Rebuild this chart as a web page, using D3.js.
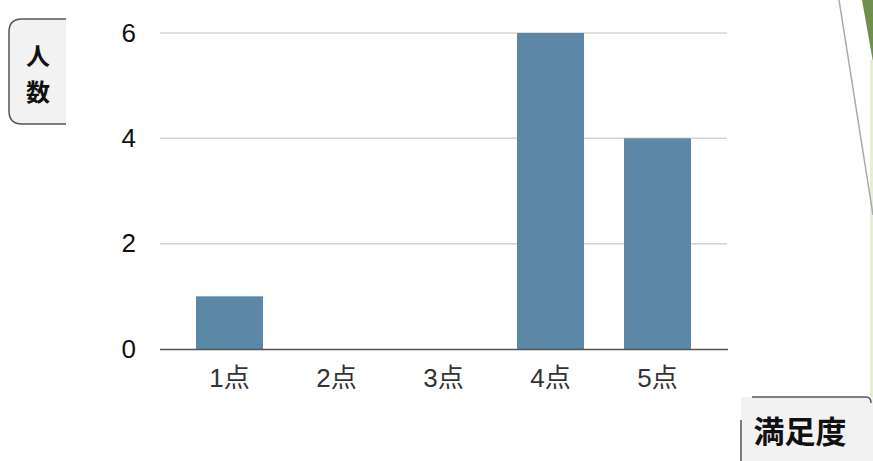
<!DOCTYPE html>
<html><head><meta charset="utf-8">
<script src="https://cdn.jsdelivr.net/npm/d3@7"></script>
<style>body{margin:0;background:#fff;}svg{display:block;font-family:"Liberation Sans",Arial,sans-serif;}</style>
</head><body>
<svg id="c" width="873" height="461"></svg>
<script>
const categories = ["1点","2点","3点","4点","5点"];
const values = [1,0,0,6,4];
const yTicks = [0,2,4,6];
const yTitle = ["人","数"];
const xTitle = "満足度";

const svg = d3.select("#c");
const x = d3.scaleBand().domain(categories).range([176,711]).paddingInner(0.374).paddingOuter(0.187);
const y = d3.scaleLinear().domain([0,6]).range([349,33]);

// decorative right edge
svg.append("path").attr("d","M862,0 L873,0 L873,62 Z").attr("fill","#6f8f4e");
svg.append("rect").attr("x",870).attr("y",60).attr("width",3).attr("height",380).attr("fill","#e4efd8");
svg.append("line").attr("x1",839).attr("y1",0).attr("x2",873).attr("y2",215).attr("stroke","#aaa").attr("stroke-width",1.5);

// gridlines
svg.append("g").selectAll("line").data(yTicks.filter(d=>d>0)).join("line")
  .attr("x1",160).attr("x2",727).attr("y1",d=>y(d)).attr("y2",d=>y(d))
  .attr("stroke","#d4d4d4").attr("stroke-width",1.5);

// y labels
const yAxis = d3.axisLeft(y).tickValues(yTicks).tickFormat(d3.format("d")).tickSize(0).tickPadding(0);
const ga = svg.append("g").attr("transform","translate(136,0)").call(yAxis);
ga.select(".domain").remove();
ga.selectAll("text").attr("font-size",26).attr("fill","#111").attr("font-family","Liberation Sans, Arial, sans-serif");

// bars
svg.append("g").selectAll("rect").data(values).join("rect")
  .attr("x",(d,i)=>x(categories[i])).attr("width",x.bandwidth())
  .attr("y",d=>y(d)).attr("height",d=>y(0)-y(d))
  .attr("fill","#5b88a6");

// x axis line
svg.append("line").attr("x1",160).attr("x2",728).attr("y1",349.5).attr("y2",349.5).attr("stroke","#555").attr("stroke-width",1.5);

const xAxis = d3.axisBottom(x).tickSize(0).tickPadding(0);
const gx = svg.append("g").attr("transform","translate(0,369)").call(xAxis);
gx.select(".domain").remove();
gx.selectAll("text").attr("font-size",26).attr("fill","#333").attr("font-family","Liberation Sans, 'Noto Sans CJK JP', sans-serif");

// y title box
svg.append("path").attr("d","M66,19 L22,19 Q9,19 9,32 L9,111 Q9,124 22,124 L66,124")
  .attr("fill","#f2f2f2").attr("stroke","#555").attr("stroke-width",1.5);
svg.append("g").selectAll("text").data(yTitle).join("text")
  .attr("x",38).attr("y",(d,i)=>65+i*36).attr("text-anchor","middle")
  .attr("font-size",24).attr("font-weight","bold").attr("fill","#111")
  .attr("font-family","'Noto Sans CJK JP', sans-serif").text(d=>d);

// x title box
svg.append("rect").attr("x",741).attr("y",397).attr("width",140).attr("height",70).attr("fill","#f2f2f2");
svg.append("path").attr("d","M752,397 L866,397 Q871,397 871,403").attr("fill","none").attr("stroke","#555").attr("stroke-width",1.5);
svg.append("line").attr("x1",741).attr("x2",741).attr("y1",420).attr("y2",461).attr("stroke","#555").attr("stroke-width",1.5);
svg.append("text").attr("x",800).attr("y",443).attr("text-anchor","middle")
  .attr("font-size",31).attr("font-weight","bold").attr("fill","#111")
  .attr("font-family","'Noto Sans CJK JP', sans-serif").text(xTitle);
</script>
</body></html>
